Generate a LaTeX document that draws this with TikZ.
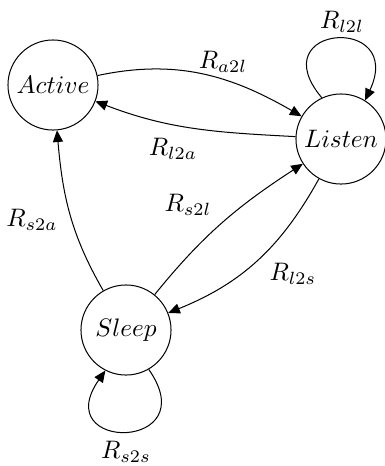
\documentclass[tikz,border=0pt]{standalone}
\usetikzlibrary{arrows.meta}
\begin{document}
\begin{tikzpicture}[x=0.3953pt,y=-0.3953pt,
  stnode/.style={circle,draw,line width=0.4pt,minimum size=35.6pt,inner sep=0pt},
  lbl/.style={inner sep=0pt},
  trans/.style={-{Triangle[length=4.6pt,width=4pt]},line width=0.4pt}]
\useasboundingbox (0,0) rectangle (385,466);
\node[stnode] (A) at (53,85) {$Active$};
\node[stnode] (L) at (341,139) {$Listen$};
\node[stnode] (S) at (126,330) {$Sleep$};

\draw[trans] (A) to[out=12,in=150] (L);
\draw[trans] (L) to[out=177,in=-21] (A);
\draw[trans] (S) to[out=51,in=213] (L);
\draw[trans] (L) to[out=241,in=22] (S);
\draw[trans] (S) to[out=120,in=-85] (A);
\draw[trans] (L.115) .. controls +(130:37.8pt) and +(65:37.8pt) .. (L.58);
\draw[trans] (S.-60) .. controls +(-55:39.5pt) and +(-125:39.5pt) .. (S.-117);

\node[lbl] (la2l) at (223,62) {$R_{a2l}$};
\node[lbl] (ll2l) at (342,22) {$R_{l2l}$};
\node[lbl] (ll2a) at (173,149) {$R_{l2a}$};
\node[lbl] (ls2l) at (188,205) {$R_{s2l}$};
\node[lbl] (ls2a) at (32,220) {$R_{s2a}$};
\node[lbl] (ll2s) at (293,274) {$R_{l2s}$};
\node[lbl] (ls2s) at (126,452) {$R_{s2s}$};
\end{tikzpicture}
\end{document}
